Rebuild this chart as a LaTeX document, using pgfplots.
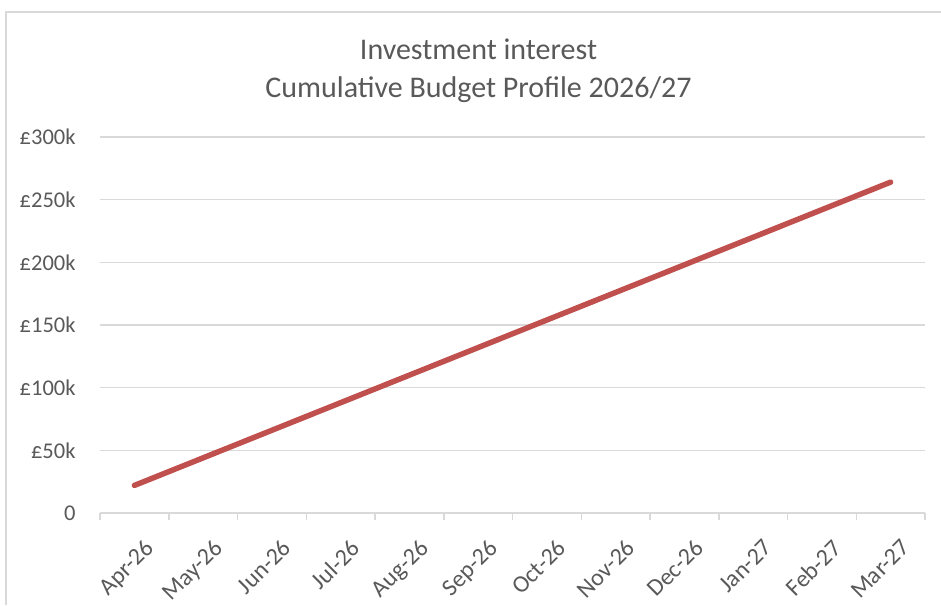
\documentclass[border=0pt]{standalone}
\usepackage{pgfplots}
\pgfplotsset{compat=1.18}
\usepackage{fontspec}
\setmainfont{Carlito}
\definecolor{txt}{HTML}{595959}
\definecolor{gridc}{HTML}{D9D9D9}
\definecolor{linec}{HTML}{C0504D}
\begin{document}
\begin{tikzpicture}[x=1pt,y=1pt]
\useasboundingbox (0,0) rectangle (941,605);
\draw[gridc, line width=2pt] (6,0) -- (6,593) -- (941,593);
\begin{axis}[
  at={(100pt,92pt)}, anchor=south west,
  scale only axis, width=825pt, height=376pt,
  xmin=-0.5, xmax=11.5, ymin=0, ymax=300,
  axis x line*=bottom, axis y line*=left,
  x axis line style={gridc, line width=1.5pt, -},
  y axis line style={draw=none},
  ymajorgrids, grid style={gridc, line width=1.5pt},
  xtick={0,...,11},
  xticklabels={Apr-26,May-26,Jun-26,Jul-26,Aug-26,Sep-26,Oct-26,Nov-26,Dec-26,Jan-27,Feb-27,Mar-27},
  minor xtick={-0.5,0.5,...,11.5},
  major x tick style={draw=none},
  minor x tick style={gridc, line width=1.5pt},
  tick align=outside, minor tick length=7pt,
  ytick={0,50,...,300},
  yticklabels={0,£50k,£100k,£150k,£200k,£250k,£300k},
  ytick style={draw=none},
  ticklabel style={font=\fontsize{22.5}{27}\selectfont, text=txt},
  yticklabel style={anchor=east, inner sep=0pt, xshift=-20pt},
  xticklabel style={font=\fontsize{24}{28}\selectfont, rotate=45, anchor=north east, inner sep=0pt, xshift=-8pt, yshift=-21pt},
  title={Investment interest\\Cumulative Budget Profile 2026/27},
  title style={font=\fontsize{30}{38}\selectfont, text=txt, align=center, anchor=south, inner sep=0pt, at={(0.5,1)}, xshift=-34pt, yshift=28pt},
  clip=false,
]
\addplot[linec, line width=5.5pt, line cap=round] coordinates {
(0,22) (1,44) (2,66) (3,88) (4,110) (5,132) (6,154) (7,176) (8,198) (9,220) (10,242) (11,264)
};
\end{axis}
\end{tikzpicture}
\end{document}
